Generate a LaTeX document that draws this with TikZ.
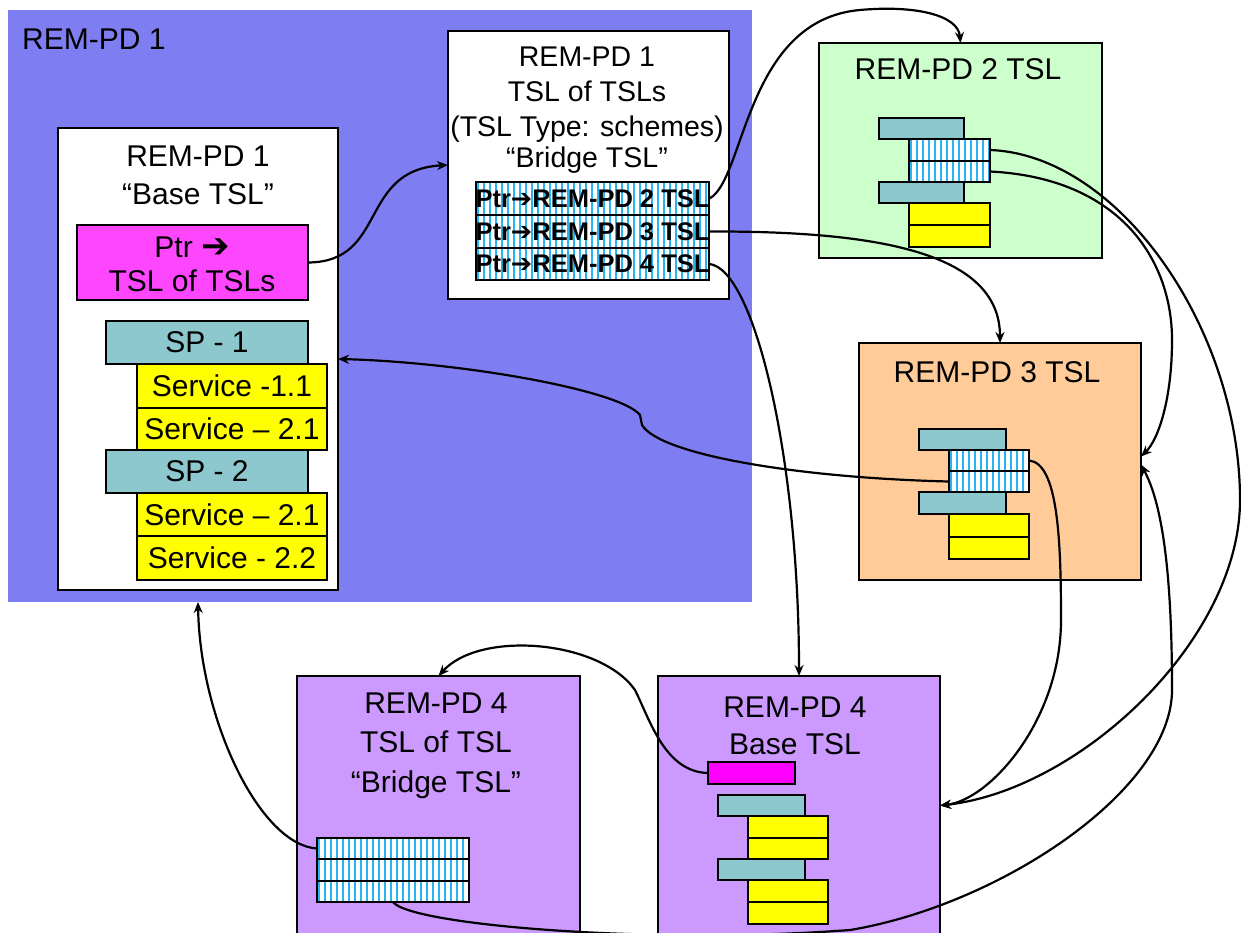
\documentclass[tikz,border=0pt]{standalone}
\usepackage{fontspec}
\setmainfont{Liberation Sans}
\newfontfamily\dejavu{DejaVu Sans}
\usetikzlibrary{arrows.meta,calc}
\definecolor{pdblue}{RGB}{126,126,242}
\definecolor{spteal}{RGB}{140,200,205}
\definecolor{svyel}{RGB}{255,255,0}
\definecolor{ptrmag}{RGB}{255,70,255}
\definecolor{ptrmagb}{RGB}{255,0,255}
\definecolor{pdgreen}{RGB}{204,255,204}
\definecolor{pdorange}{RGB}{255,204,153}
\definecolor{pdpurple}{RGB}{204,153,255}
\definecolor{stripecol}{RGB}{40,180,240}
\newcommand\ptrarrow{{\dejavu\bfseries ➔}}
\newcommand\mkbox[7]{%
  \pgfmathsetmacro\bcx{(#2+#4)/2}\pgfmathsetmacro\bcy{(#3+#5)/2}%
  \pgfmathsetmacro\bww{#4-#2}\pgfmathsetmacro\bhh{#5-#3}%
  \node[#6, minimum width=\bww pt, minimum height=\bhh pt] (#1) at (\bcx,\bcy) {#7};}
\tikzset{
  boxed/.style={draw, line width=2pt, inner sep=0pt, outer sep=0pt, rectangle},
  plain/.style={inner sep=0pt, outer sep=0pt, rectangle},
  lbl/.style={inner sep=0pt, anchor=base, font=\fontsize{30}{36}\selectfont},
  blbl/.style={inner sep=0pt, anchor=base, font=\fontsize{28.5}{34}\selectfont},
  svc/.style={boxed, font=\fontsize{30}{36}\selectfont},
  spbox/.style={boxed, fill=spteal},
  yelbox/.style={boxed, fill=svyel},
  stripes/.style={boxed, fill=white, path picture={
      \foreach \i in {2,8,...,300}
        \draw[line width=2pt, stripecol]
          ([xshift=\i pt]path picture bounding box.south west) --
          ([xshift=\i pt]path picture bounding box.north west);}},
  rowtxt/.style={font=\fontsize{25.5}{28}\selectfont\bfseries},
  conn/.style={line width=2.2pt, -{Stealth[length=11pt,width=9pt]}},
}
\begin{document}
\begin{tikzpicture}[x=1pt,y=-1pt]
\useasboundingbox (0,0) rectangle (1241,933);
\clip (0,0) rectangle (1241,933);
\fill[white] (0,0) rectangle (1241,933);

% REM-PD 1 region
\mkbox{pd1}{8}{10}{752}{602}{plain, fill=pdblue}{}
\node[lbl, anchor=base west] (pd1t) at (22,50) {REM-PD 1};

% Base TSL
\mkbox{base}{58}{128}{338}{590}{boxed, fill=white}{}
\node[lbl] (baset1) at (198,167) {REM-PD 1};
\node[lbl] (baset2) at (198,205) {“Base TSL”};
\mkbox{ptr}{77}{225}{308}{300}{boxed, fill=ptrmag}{}
\node[lbl] (ptrt1) at (192,258) {Ptr {\fontsize{34}{36}\selectfont\ptrarrow}};
\node[lbl] (ptrt2) at (192,291) {TSL of TSLs};
\mkbox{sp1}{106}{321}{308}{364}{svc, fill=spteal}{SP - 1}
\mkbox{sv11}{137}{364}{327}{408}{svc, fill=svyel}{Service -1.1}
\mkbox{sv21}{137}{408}{327}{450}{svc, fill=svyel}{Service – 2.1}
\mkbox{sp2}{106}{450}{308}{493}{svc, fill=spteal}{SP - 2}
\mkbox{sv21b}{137}{493}{327}{536}{svc, fill=svyel}{Service – 2.1}
\mkbox{sv22}{137}{536}{327}{580}{svc, fill=svyel}{Service - 2.2}

% Bridge TSL
\mkbox{bridge}{448}{31}{729}{299}{boxed, fill=white}{}
\node[blbl] (brt1) at (587,67) {REM-PD 1};
\node[blbl] (brt2) at (587,102) {TSL of TSLs};
\node[blbl] (brt3) at (587,137) {(TSL Type: schemes)};
\node[blbl] (brt4) at (587,168) {“Bridge TSL”};
\mkbox{r2}{476}{182}{709}{215}{stripes, rowtxt}{Ptr\ptrarrow REM-PD 2 TSL}
\mkbox{r3}{476}{215}{709}{248}{stripes, rowtxt}{Ptr\ptrarrow REM-PD 3 TSL}
\mkbox{r4}{476}{248}{709}{280}{stripes, rowtxt}{Ptr\ptrarrow REM-PD 4 TSL}

% REM-PD 2 TSL
\mkbox{g2}{819}{43}{1102}{258}{boxed, fill=pdgreen}{}
\node[lbl] (g2t) at (958,80) {REM-PD 2 TSL};
\mkbox{g2a}{879}{118}{964}{139}{spbox}{}
\mkbox{g2s1}{909}{139}{990}{161}{stripes}{}
\mkbox{g2s2}{909}{161}{990}{182}{stripes}{}
\mkbox{g2b}{879}{182}{964}{203}{spbox}{}
\mkbox{g2y1}{909}{203}{990}{225}{yelbox}{}
\mkbox{g2y2}{909}{225}{990}{247}{yelbox}{}

% REM-PD 3 TSL
\mkbox{o3}{859}{343}{1141}{580}{boxed, fill=pdorange}{}
\node[lbl] (o3t) at (997,382) {REM-PD 3 TSL};
\mkbox{o3a}{919}{429}{1006}{450}{spbox}{}
\mkbox{o3s1}{949}{450}{1029}{471}{stripes}{}
\mkbox{o3s2}{949}{471}{1029}{492}{stripes}{}
\mkbox{o3b}{919}{492}{1006}{514}{spbox}{}
\mkbox{o3y1}{949}{514}{1029}{537}{yelbox}{}
\mkbox{o3y2}{949}{537}{1029}{559}{yelbox}{}

% REM-PD 4 bridge
\mkbox{br4}{297}{676}{580}{945}{boxed, fill=pdpurple}{}
\node[lbl] (br4t1) at (436,713) {REM-PD 4};
\node[lbl] (br4t2) at (436,752) {TSL of TSL};
\node[lbl] (br4t3) at (436,792) {“Bridge TSL”};
\mkbox{br4s1}{317}{838}{469}{859}{stripes}{}
\mkbox{br4s2}{317}{859}{469}{881}{stripes}{}
\mkbox{br4s3}{317}{881}{469}{902}{stripes}{}

% REM-PD 4 base
\mkbox{b4}{658}{676}{940}{945}{boxed, fill=pdpurple}{}
\node[lbl] (b4t1) at (795,717) {REM-PD 4};
\node[lbl] (b4t2) at (795,754) {Base TSL};
\mkbox{b4m}{708}{762}{795}{784}{boxed, fill=ptrmagb}{}
\mkbox{b4a}{718}{795}{805}{816}{spbox}{}
\mkbox{b4y1}{748}{816}{828}{838}{yelbox}{}
\mkbox{b4y2}{748}{838}{828}{859}{yelbox}{}
\mkbox{b4b}{718}{859}{805}{880}{spbox}{}
\mkbox{b4y3}{748}{880}{828}{902}{yelbox}{}
\mkbox{b4y4}{748}{902}{828}{924}{yelbox}{}

% connector end points
\coordinate (b4in) at ($(b4.east)+(0,-5)$);
\coordinate (o3in1) at ($(o3.east)+(0,-5)$);
\coordinate (o3in2) at ($(o3.east)+(0,3)$);
\coordinate (pd1in) at (base.south |- pd1.south);

% connectors
\draw[conn] (ptr.east) .. controls (388,262) and (358,170) .. (bridge.west);
\draw[conn] (r2.east) .. controls (745,180) and (745,20) .. (860,10)
            .. controls (915,5) and (958,15) .. (g2.north);
\draw[conn] (r3.east) .. controls (880,231) and (1000,253) .. (o3.north);
\draw[conn] (r4.east) .. controls (754,269) and (799,456) .. (b4.north);
\draw[conn] (o3s2.west) .. controls (800,478) and (660,455) .. (642,425)
            -- (640,415) .. controls (620,390) and (460,362) .. (base.east);
\draw[conn] (o3s1.east) .. controls (1058,463) and (1061,540) .. (1061,620)
            .. controls (1061,720) and (990,800) .. (b4in);
\draw[conn] (g2s1.east) .. controls (1120,155) and (1240,330) .. (1240,500)
            .. controls (1240,640) and (1080,790) .. (b4in);
\draw[conn] (g2s2.east) .. controls (1120,178) and (1172,260) .. (1172,340)
            .. controls (1172,400) and (1158,440) .. (o3in1);
\draw[conn] (br4s3.south) .. controls (410,925) and (650,945) .. (850,930)
            .. controls (1000,905) and (1172,790) .. (1172,690)
            .. controls (1172,560) and (1160,500) .. (o3in2);
\draw[conn] (b4m.west) .. controls (665,772) and (650,720) .. (635,690)
            .. controls (600,640) and (480,630) .. (br4.north);
\draw[conn] (br4s1.west) .. controls (260,845) and (200,720) .. (pd1in);
\end{tikzpicture}
\end{document}
